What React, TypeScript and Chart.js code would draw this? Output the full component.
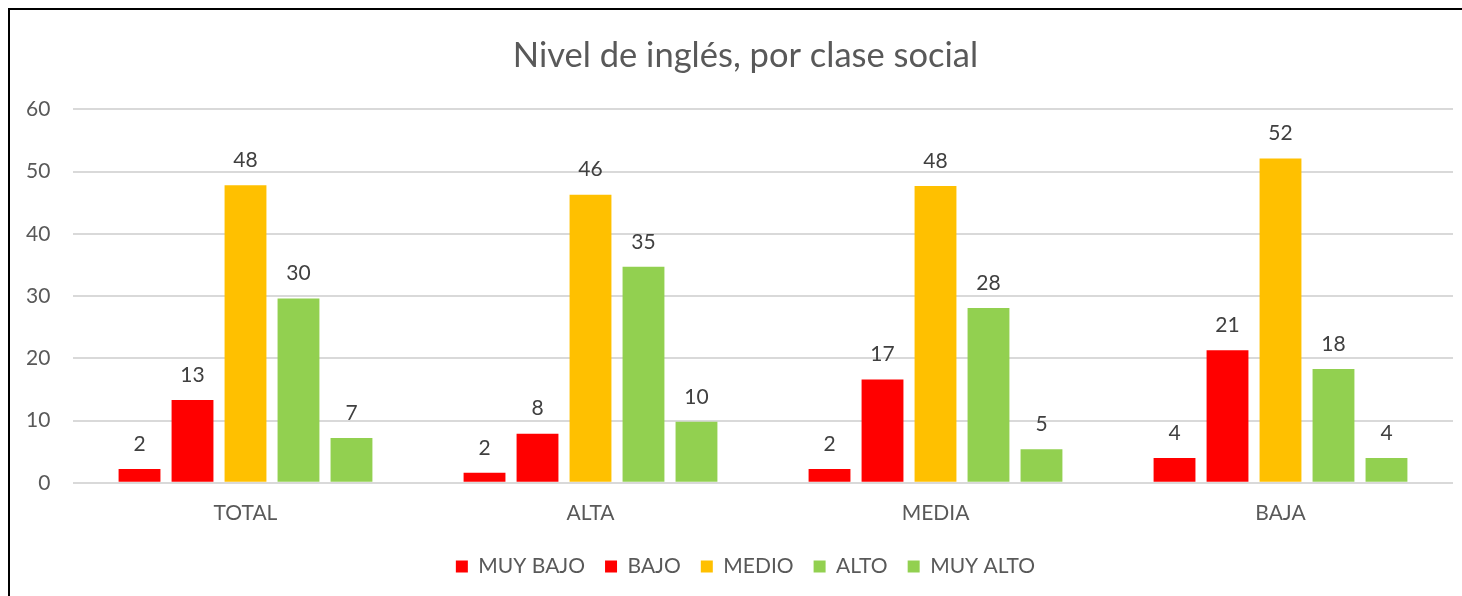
import React, { useEffect, useRef } from "react";
import { Chart, registerables } from "chart.js";

Chart.register(...registerables);

const categories = ["TOTAL", "ALTA", "MEDIA", "BAJA"];
const seriesNames = ["MUY BAJO", "BAJO", "MEDIO", "ALTO", "MUY ALTO"];
const muyBajo = [2.2, 1.6, 2.2, 4.0];
const bajo = [13.3, 7.9, 16.6, 21.3];
const medio = [47.8, 46.3, 47.7, 52.1];
const alto = [29.6, 34.7, 28.1, 18.3];
const muyAlto = [7.2, 9.8, 5.4, 4.0];
const seriesColors = ["#FF0000", "#FF0000", "#FFC000", "#92D050", "#92D050"];
const yTicks = [0, 10, 20, 30, 40, 50, 60];

const FONT = "Lato, 'Open Sans', sans-serif";

const dataLabels = {
  id: "dataLabels",
  afterDatasetsDraw(chart: any) {
    const ctx = chart.ctx;
    ctx.save();
    ctx.fillStyle = "#404040";
    ctx.font = `21px ${FONT}`;
    ctx.textAlign = "center";
    ctx.textBaseline = "middle";
    chart.data.datasets.forEach((ds: any, i: number) => {
      const meta = chart.getDatasetMeta(i);
      meta.data.forEach((bar: any, j: number) => {
        ctx.fillText(String(Math.round(ds.data[j])), bar.x, bar.y - 25);
      });
    });
    ctx.restore();
  },
};

export default function App() {
  const ref = useRef<HTMLCanvasElement>(null);
  useEffect(() => {
    const all = [muyBajo, bajo, medio, alto, muyAlto];
    const chart = new Chart(ref.current!, {
      type: "bar",
      data: {
        labels: categories,
        datasets: seriesNames.map((n, i) => ({
          label: n,
          data: all[i],
          backgroundColor: seriesColors[i],
          borderWidth: 0,
          categoryPercentage: 0.768,
          barPercentage: 0.79,
        })),
      },
      options: {
        animation: false,
        responsive: false,
        layout: { padding: { left: 28, right: 30, top: 25, bottom: 9 } },
        plugins: {
          title: {
            display: true,
            text: "Nivel de inglés, por clase social",
            color: "#595959",
            font: { family: FONT, size: 34.5, weight: "normal" },
            padding: { top: 0, bottom: 33 },
          },
          legend: {
            position: "bottom",
            labels: {
              color: "#595959",
              font: { family: FONT, size: 21 },
              boxWidth: 12,
              boxHeight: 12,
              padding: 20,
            },
          },
          tooltip: { enabled: false },
        },
        scales: {
          x: {
            grid: { display: false },
            border: { display: false },
            ticks: { color: "#595959", font: { family: FONT, size: 21 }, padding: 10 },
          },
          y: {
            min: 0,
            max: 60,
            afterBuildTicks: (s: any) => {
              s.ticks = yTicks.map((v) => ({ value: v }));
            },
            afterFit: (s: any) => {
              s.width = 35;
            },
            grid: { color: "#d9d9d9", lineWidth: 2, drawTicks: false },
            border: { display: false },
            ticks: {
              color: "#595959",
              font: { family: FONT, size: 21 },
              mirror: true,
              crossAlign: "far",
              padding: -47,
            },
          },
        },
      },
      plugins: [dataLabels],
    });
    return () => chart.destroy();
  }, []);
  return (
    <div
      style={{
        position: "fixed",
        left: 0,
        top: 0,
        width: "100vw",
        height: "100vh",
        overflow: "hidden",
        background: "#fff",
      }}
    >
      <div
        style={{
          position: "absolute",
          left: 8,
          top: 8,
          width: 1490,
          height: 600,
          boxSizing: "border-box",
          borderTop: "2px solid #000",
          borderLeft: "2px solid #000",
        }}
      >
        <canvas ref={ref} width={1473} height={586} style={{ display: "block" }} />
      </div>
    </div>
  );
}
